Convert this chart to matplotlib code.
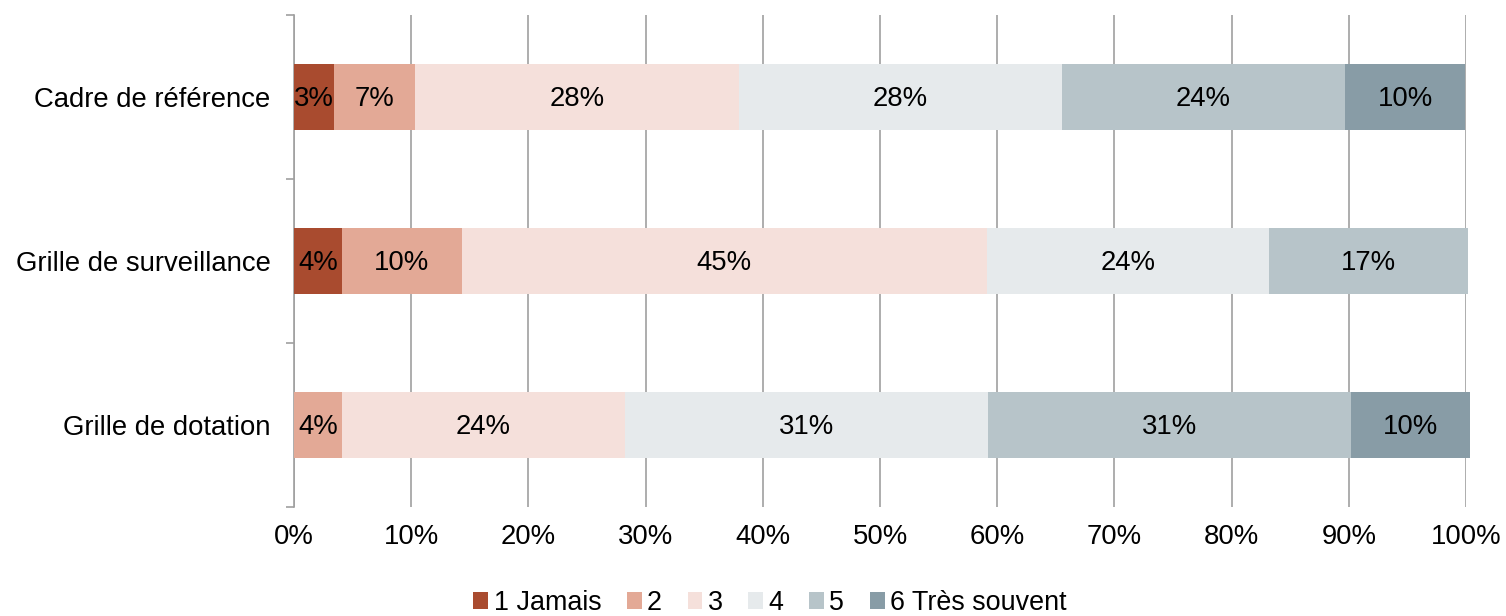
import matplotlib
matplotlib.use("Agg")
import matplotlib.pyplot as plt
import numpy as np

plt.rcParams['font.family'] = ['Liberation Sans', 'DejaVu Sans']

categories = ["Cadre de référence", "Grille de surveillance", "Grille de dotation"]
series_names = ["1 Jamais", "2", "3", "4", "5", "6 Très souvent"]
s1 = [3.45, 4.1, 0.0]
s2 = [6.9, 10.2, 4.1]
s3 = [27.6, 44.8, 24.1]
s4 = [27.6, 24.1, 31.0]
s5 = [24.1, 17.0, 31.0]
s6 = [10.3, 0.0, 10.1]
x_ticks = [0, 10, 20, 30, 40, 50, 60, 70, 80, 90, 100]
x_tick_labels = [f"{t}%" for t in x_ticks]

colors = ["#A94B2F", "#E3A996", "#F5E0DB", "#E6EAEC", "#B7C4C9", "#889CA6"]
FS = 19.8

fig = plt.figure(figsize=(15.06, 6.16), dpi=100)
ax = fig.add_axes([294/1506, 1-507/616, (1466-294)/1506, (507-15)/616])

series = [s1, s2, s3, s4, s5, s6]
y = np.arange(len(categories))
left = np.zeros(len(categories))
for vals, name, col in zip(series, series_names, colors):
    vals = np.array(vals)
    bars = ax.barh(y, vals, left=left, height=0.4, color=col, label=name, zorder=3)
    for b in bars:
        b.set_clip_on(False)
    for yi, v, l in zip(y, vals, left):
        if v > 0:
            ax.text(l + v/2, yi + 0.01, f"{round(v):.0f}%", ha='center', va='center',
                    fontsize=FS, color='black', zorder=4)
    left = left + vals

ax.set_xlim(0, 100)
ax.set_ylim(len(categories) - 0.5, -0.5)
ax.set_xticks(x_ticks)
ax.set_xticklabels(x_tick_labels, fontsize=FS)
ax.set_yticks(y)
ax.set_yticklabels(categories, fontsize=FS)
ax.set_yticks(np.arange(-0.5, len(categories)), minor=True)
ax.tick_params(axis='y', which='major', length=0, pad=17)
ax.tick_params(axis='y', which='minor', length=6, color='#A0A0A0', width=1.2)
ax.tick_params(axis='x', length=0, pad=12)
ax.grid(axis='x', color='#A0A0A0', linewidth=1.2, zorder=0)
for s in ['top', 'right', 'bottom']:
    ax.spines[s].set_visible(False)
ax.spines['left'].set_color('#A0A0A0')
ax.spines['left'].set_linewidth(1.2)

fig.legend(loc='center', bbox_to_anchor=(770/1506, 1-603/616), ncol=6, frameon=False,
           fontsize=19.4, handlelength=0.55, handleheight=0.55, handletextpad=0.2,
           columnspacing=0.95, borderaxespad=0)

fig.savefig("out.png", dpi=100)
